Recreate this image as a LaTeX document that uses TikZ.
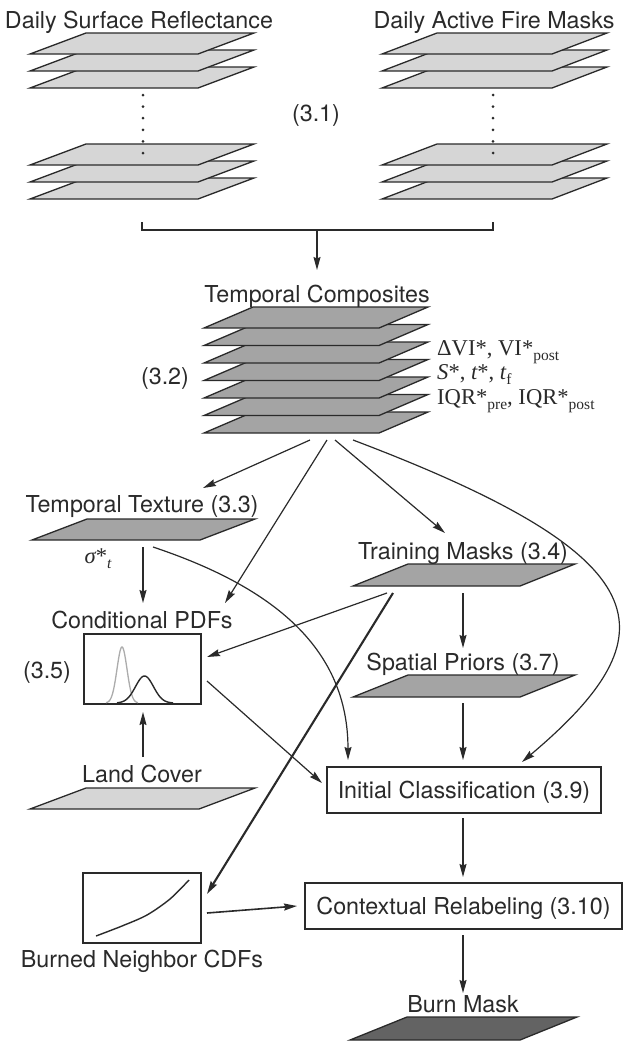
\documentclass[tikz,border=0pt]{standalone}
\usepackage{fontspec}
\setmainfont{TeX Gyre Heros}
\newfontfamily\tms{Liberation Serif}
\usetikzlibrary{arrows.meta}
\definecolor{lgray}{HTML}{D6D6D6}
\definecolor{mgray}{HTML}{A4A4A4}
\definecolor{dgray}{HTML}{636363}
\definecolor{ink}{HTML}{2A2A2A}
\newcommand\pln[6]{\draw[pl,fill=#6] (#1,#2) -- ++(#3,0) -- ++(#4,-#5) -- ++(-#3,0) -- cycle;}
\newcommand\sbs[1]{\raisebox{-0.45ex}{\fontsize{15.5}{15.5}\selectfont #1}}
\begin{document}
\begin{tikzpicture}[x=1pt,y=-1pt,
  pl/.style={draw=ink,line width=1.3pt,line join=miter},
  txt/.style={inner sep=0pt,font=\fontsize{23.3}{27}\selectfont,text height=16.7pt,text depth=0pt,text=ink},
  tl/.style={inner sep=0pt,font=\fontsize{22.6}{26}\selectfont\tms,text height=15pt,text depth=0pt,anchor=west,text=ink},
  box/.style={draw=ink,line width=1.3pt,inner sep=0pt,fill=white,font=\fontsize{23.3}{27}\selectfont,text height=16.7pt,text depth=0pt,text=ink},
  arr/.style={draw=ink,line width=1.2pt,-{Stealth[length=13pt,width=7pt,inset=1.5pt]}},
  dotline/.style={draw=ink,line width=3pt,line cap=round,dash pattern=on 0pt off 11.6pt}]
\useasboundingbox (0,0) rectangle (630,1050);

% top stacks
\foreach \b in {88,71,54} {\pln{30}{\b}{168}{56}{21}{lgray}}
\foreach \b in {199,182,165} {\pln{30}{\b}{168}{56}{21}{lgray}}
\foreach \b in {88,71,54} {\pln{382}{\b}{170}{55}{21}{lgray}}
\foreach \b in {199,182,165} {\pln{382}{\b}{170}{55}{21}{lgray}}
\draw[dotline] (143,95) -- (143,154);
\draw[dotline] (493,95) -- (493,154);

\node[txt] (dsr) at (139,20) {Daily Surface Reflectance};
\node[txt] (dafm) at (494,20) {Daily Active Fire Masks};
\node[txt] (s31) at (316,113) {(3.1)};

% bracket
\coordinate (brL) at (142,222);
\coordinate (brR) at (493,222);
\coordinate (brM) at (317,230);
\coordinate (tcTop) at (317,270);
\draw[draw=ink,line width=1.2pt] (brL) -- (142,230) -- (493,230) -- (brR);
\draw[arr] (brM) -- (tcTop);

% temporal composites
\node[txt] (tc) at (317,294) {Temporal Composites};
\foreach \k in {6,5,...,0} {\pln{204}{328+17.5*\k}{175}{49}{21}{mgray}}
\node[tl] (lab1) at (437,348) {ΔVI*, VI*\sbs{post}};
\node[tl] (lab2) at (437,372) {{\itshape S}*, {\itshape t}*, {\itshape t}\sbs{f}};
\node[tl] (lab3) at (437,397) {IQR*\sbs{pre}, IQR*\sbs{post}};
\node[txt] (s32) at (165,376) {(3.2)};

% temporal texture
\node[txt] (tt) at (142,504.5) {Temporal Texture (3.3)};
\pln{32}{540}{168}{55}{21}{mgray}
\node[tl,anchor=center] (sig) at (98,556) {{\itshape σ}*\sbs{\itshape t}};

% conditional PDFs
\node[txt] (cpt) at (142,620.5) {Conditional PDFs};
\node[box,minimum width=117pt,minimum height=70pt] (cpdf) at (142.5,669) {};
\node[txt] (s35) at (47,670) {(3.5)};
\draw[color=gray!65,line width=1.3pt] plot[domain=106:138,samples=60] (\x,{703-56*exp(-((\x-122)^2)/50)});
\draw[color=ink,line width=1.4pt] plot[domain=117:173,samples=60] (\x,{703-27*exp(-((\x-144.5)^2)/162)});

% training masks / spatial priors
\node[txt] (tm) at (463,551) {Training Masks (3.4)};
\pln{353}{586}{167}{55}{22}{mgray}
\node[txt] (sp) at (463,662) {Spatial Priors (3.7)};
\pln{353}{697}{167}{55}{22}{mgray}

% land cover
\node[txt] (lc) at (142,774) {Land Cover};
\pln{30}{809}{169}{56}{21}{lgray}

% initial classification & contextual relabeling
\node[box,minimum width=274pt,minimum height=46pt] (ic) at (464,790) {Initial Classification (3.9)};
\node[box,minimum width=317pt,minimum height=46pt] (cr) at (463.5,906) {Contextual Relabeling (3.10)};

% burned neighbor CDFs
\node[box,minimum width=118pt,minimum height=70pt] (bn) at (142,908) {};
\draw[color=ink,line width=1.4pt] plot[smooth] coordinates {(96,936) (122,926) (147,915) (170,899) (189,880)};
\node[txt] (bnt) at (142,959) {Burned Neighbor CDFs};

% burn mask
\node[txt] (bm) at (463,1004.5) {Burn Mask};
\pln{350}{1040}{170}{57}{23}{dgray}

% connector endpoints
\coordinate (tc1) at (310,440);
\coordinate (tc2) at (327,440);
\coordinate (tc3) at (335,440);
\coordinate (tc4) at (353,440);
\coordinate (ttIn) at (203,488);
\coordinate (cpIn1) at (225,603);
\coordinate (tmIn) at (445,533);
\coordinate (icIn1) at (522,762);
\coordinate (ttOut1) at (143,547);
\coordinate (ttOut2) at (153,547);
\coordinate (cpIn2) at (143,603);
\coordinate (icIn2) at (348,760);
\coordinate (tmOut1) at (387,593);
\coordinate (tmOut2) at (393,593);
\coordinate (tmOut3) at (463,593);
\coordinate (cpIn3) at (207,657);
\coordinate (bnIn) at (207,894);
\coordinate (spIn) at (463,648);
\coordinate (spOut) at (463,703);
\coordinate (icIn3) at (463,760);
\coordinate (cpOut) at (207,681);
\coordinate (icIn4) at (322,783);
\coordinate (lcOut) at (143,757);
\coordinate (cpIn4) at (143,712);
\coordinate (icOut) at (463,818);
\coordinate (crIn1) at (463,877);
\coordinate (bnOut) at (207,913);
\coordinate (crIn2) at (297,906);
\coordinate (crOut) at (463,935);
\coordinate (bmIn) at (463,993);

\draw[arr] (tc1) -- (ttIn);
\draw[arr] (tc2) -- (cpIn1);
\draw[arr] (tc3) -- (tmIn);
\draw[arr] (tc4) .. controls (662,557) and (675,633) .. (icIn1);
\draw[arr] (ttOut1) -- (cpIn2);
\draw[arr] (ttOut2) .. controls (276,588) and (348,650) .. (icIn2);
\draw[arr] (tmOut1) -- (cpIn3);
\draw[arr,line width=2.1pt] (tmOut2) -- (bnIn);
\draw[arr] (tmOut3) -- (spIn);
\draw[arr] (spOut) -- (icIn3);
\draw[arr] (cpOut) -- (icIn4);
\draw[arr] (lcOut) -- (cpIn4);
\draw[arr] (icOut) -- (crIn1);
\draw[arr,line width=1.6pt] (bnOut) -- (crIn2);
\draw[arr] (crOut) -- (bmIn);
\end{tikzpicture}
\end{document}
